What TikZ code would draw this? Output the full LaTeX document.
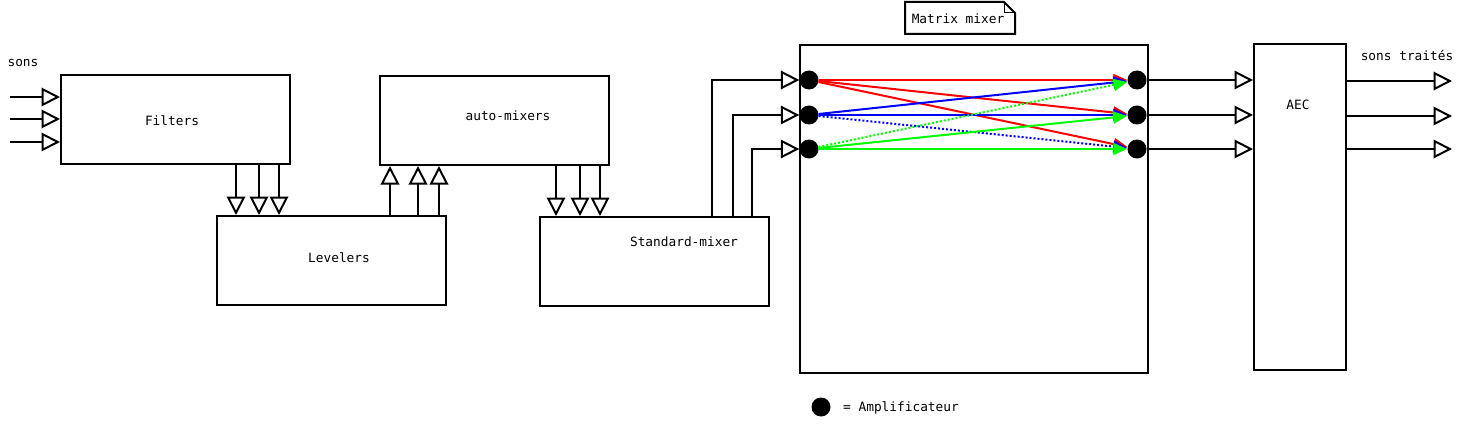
\documentclass[tikz,border=0pt]{standalone}
\usepackage{fontspec}
\setmonofont{DejaVu Sans Mono}
\usetikzlibrary{arrows.meta,calc}
\definecolor{pgreen}{RGB}{0,255,0}
\begin{document}
\begin{tikzpicture}[x=1pt,y=-1pt,
  every node/.style={font=\ttfamily\fontsize{12.8}{14}\selectfont},
  box/.style={draw,line width=2pt,inner sep=0pt},
  ln/.style={line width=2pt},
  oarr/.style={ln,-{Triangle[open,length=18.5pt,width=18.5pt]}},
  marr/.style={line width=2pt,-{Triangle[length=14pt,width=12pt]}},
  dot/.style={circle,fill=black,inner sep=0pt,minimum size=19pt},
  lbl/.style={inner sep=0pt},
  dots2/.style={dash pattern=on 2pt off 2pt}]
\useasboundingbox (0,0) rectangle (1466,425);

% boxes
\node[box,minimum width=229pt,minimum height=89pt] (filters) at (175.5,119.5) {};
\node[box,minimum width=229pt,minimum height=89pt] (auto) at (494.5,120.5) {};
\node[box,minimum width=229pt,minimum height=89pt] (lev) at (331.5,260.5) {};
\node[box,minimum width=229pt,minimum height=89pt] (std) at (654.5,261.5) {};
\node[box,minimum width=348pt,minimum height=328pt] (matrix) at (974,209) {};
\node[box,minimum width=92pt,minimum height=326pt] (aec) at (1300,207) {};

% texts
\node[lbl] (tsons) at (23,63) {sons};
\node[lbl] (tfil) at (172,121) {Filters};
\node[lbl] (tauto) at (508,116) {auto-mixers};
\node[lbl] (tlev) at (339,258) {Levelers};
\node[lbl] (tstd) at (684,242) {Standard-mixer};
\node[lbl] (taec) at (1298,105) {AEC};
\node[lbl] (tout) at (1407,55) {sons traités};

% note
\draw[line width=2pt] (905,2) -- (1004,2) -- (1015,13) -- (1015,34) -- (905,34) -- cycle;
\draw[line width=1pt] (1004,2) -- (1004,13) -- (1015,13);
\node[lbl] (tnote) at (958,19) {Matrix mixer};

% inputs
\foreach \y [count=\i] in {97,119,142} {
  \coordinate (in\i) at (10,\y);
  \draw[oarr] (in\i) -- (in\i -| filters.west);
}

% filters -> levelers
\foreach \x in {236,259,279}
  \draw[oarr] (\x,0 |- filters.south) -- (\x,0 |- lev.north);
% levelers -> auto
\foreach \x in {390,418,439}
  \draw[oarr] (\x,0 |- lev.north) -- (\x,0 |- auto.south);
% auto -> std
\foreach \x in {556,580,600}
  \draw[oarr] (\x,0 |- auto.south) -- (\x,0 |- std.north);

% dots
\node[dot] (L1) at (809,80) {};
\node[dot] (L2) at (809,115) {};
\node[dot] (L3) at (809,149) {};
\node[dot] (R1) at (1137,80) {};
\node[dot] (R2) at (1137,115) {};
\node[dot] (R3) at (1137,149) {};

% std -> matrix
\draw[oarr] (712,0 |- std.north) |- (L1.west);
\draw[oarr] (733,0 |- std.north) |- (L2.west);
\draw[oarr] (752,0 |- std.north) |- (L3.west);

% matrix connections
\draw[marr,red] (L1) -- (R1);
\draw[marr,red] (L1) -- (R2);
\draw[marr,red] (L1) -- (R3);
\draw[marr,blue] (L2) -- (R1);
\draw[marr,blue] (L2) -- (R2);
\draw[marr,blue,dots2] (L2) -- (R3);
\draw[marr,pgreen,dots2] (L3) -- (R1);
\draw[marr,pgreen] (L3) -- (R2);
\draw[marr,pgreen] (L3) -- (R3);

% matrix -> aec
\draw[oarr] (R1.east) -- (R1 -| aec.west);
\draw[oarr] (R2.east) -- (R2 -| aec.west);
\draw[oarr] (R3.east) -- (R3 -| aec.west);

% aec outputs
\foreach \y [count=\i] in {81,116,149} {
  \coordinate (out\i) at (1452,\y);
  \draw[oarr] (out\i -| aec.east) -- (out\i);
}

% legend
\node[dot] (leg) at (821,407) {};
\node[lbl,anchor=west] (tleg) at (843,408) {= Amplificateur};
\end{tikzpicture}
\end{document}
